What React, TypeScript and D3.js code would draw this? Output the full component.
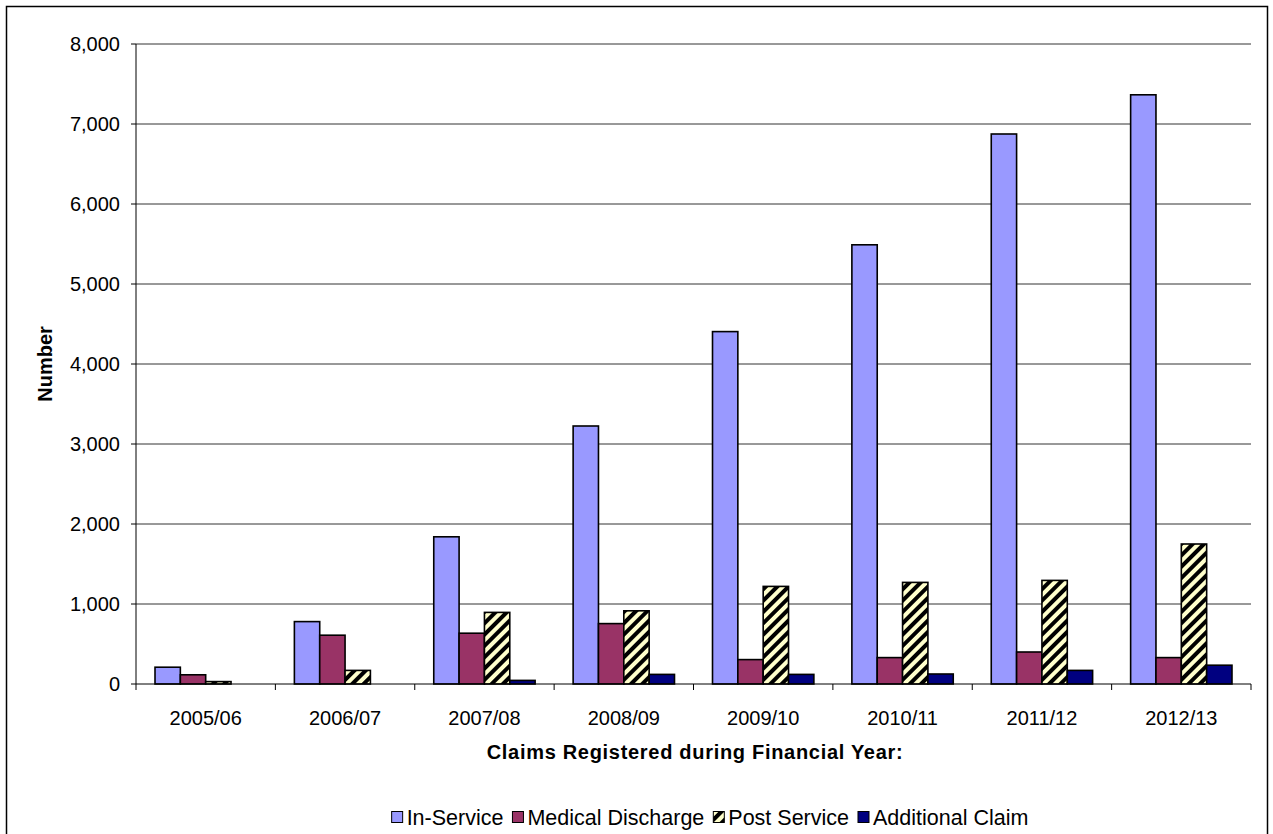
import * as React from "react";
import * as d3 from "d3";

const years = ["2005/06", "2006/07", "2007/08", "2008/09", "2009/10", "2010/11", "2011/12", "2012/13"];
const seriesNames = ["In-Service", "Medical Discharge", "Post Service", "Additional Claim"];
const inService = [210, 780, 1840, 3225, 4405, 5490, 6875, 7365];
const medicalDischarge = [115, 610, 635, 755, 305, 330, 400, 330];
const postService = [30, 170, 895, 915, 1220, 1270, 1295, 1750];
const additionalClaim = [0, 0, 45, 120, 120, 125, 170, 235];
const yTicks = [0, 1000, 2000, 3000, 4000, 5000, 6000, 7000, 8000];

const seriesValues = [inService, medicalDischarge, postService, additionalClaim];
const fills = ["#9999FF", "#993366", "url(#stripes)", "#000080"];

const W = 1273;
const H = 834;
const left = 136;
const right = 1251;
const top = 44;
const bottom = 684;
const font = "'Liberation Sans', Arial, sans-serif";

function Legend() {
  const refs = React.useRef<(SVGTextElement | null)[]>([]);
  const [widths, setWidths] = React.useState<number[]>(seriesNames.map(() => 0));

  React.useLayoutEffect(() => {
    setWidths(refs.current.map((t) => (t ? t.getComputedTextLength() : 0)));
  }, []);

  const box = 11;
  const gapText = 4;
  const gapItem = 9;
  let offsets: number[] = [];
  let cur = 0;
  widths.forEach((w) => {
    offsets.push(cur);
    cur += box + gapText + w + gapItem;
  });
  const total = cur - gapItem;
  const cx = 710;
  const cy = 817;

  return (
    <g transform={`translate(${cx - total / 2},${cy})`}>
      {seriesNames.map((s, i) => (
        <g key={s} transform={`translate(${offsets[i]},0)`}>
          <rect x={0} y={-box / 2} width={box} height={box} fill={fills[i]} stroke="#000" strokeWidth={1} />
          <text
            ref={(el) => { refs.current[i] = el; }}
            x={box + gapText}
            y={0}
            dy="0.35em"
            fontSize={21.5}
            fontFamily={font}
          >
            {s}
          </text>
        </g>
      ))}
    </g>
  );
}

export default function App() {
  const x0 = d3.scaleBand<string>().domain(years).range([left, right]).padding(0);
  const x1 = d3.scaleBand<string>().domain(seriesNames).range([0, x0.bandwidth()]).paddingInner(0).paddingOuter(0.75);
  const y = d3.scaleLinear().domain([0, 8000]).range([bottom, top]);
  const fmt = d3.format(",");

  return (
    <svg width={W} height={H} style={{ position: "absolute", left: 0, top: 0, background: "#fff" }}>
      <defs>
        <pattern id="stripes" width={8} height={8} patternUnits="userSpaceOnUse" patternTransform="rotate(45)">
          <rect width={8} height={8} fill="#FFFFCC" />
          <rect width={4} height={8} fill="#000" />
        </pattern>
      </defs>
      <rect x={6.5} y={6.5} width={1261} height={900} fill="#fff" stroke="#000" strokeWidth={1.5} />

      {/* gridlines */}
      {yTicks.filter((t) => t > 0).map((t) => (
        <line key={t} x1={left} x2={right} y1={y(t)} y2={y(t)} stroke="#333" strokeWidth={1} />
      ))}

      {/* bars */}
      {years.map((yr, ci) => (
        <g key={yr} transform={`translate(${x0(yr)},0)`}>
          {seriesNames.map((s, si) => {
            const v = seriesValues[si][ci];
            if (!v) return null;
            return (
              <rect
                key={s}
                x={x1(s)}
                y={y(v)}
                width={x1.bandwidth()}
                height={y(0) - y(v)}
                fill={fills[si]}
                stroke="#000"
                strokeWidth={1.6}
              />
            );
          })}
        </g>
      ))}

      {/* y axis */}
      <line x1={left} x2={left} y1={top} y2={bottom} stroke="#000" strokeWidth={1} />
      {yTicks.map((t) => (
        <g key={t} transform={`translate(0,${y(t)})`}>
          <line x1={left - 5} x2={left} stroke="#000" strokeWidth={1} />
          <text x={left - 16} dy="0.35em" textAnchor="end" fontSize={20} fontFamily={font}>
            {fmt(t)}
          </text>
        </g>
      ))}
      <text
        transform={`translate(45,${(top + bottom) / 2}) rotate(-90)`}
        textAnchor="middle"
        dy="0.35em"
        fontSize={20}
        fontWeight="bold"
        fontFamily={font}
      >
        Number
      </text>

      {/* x axis */}
      <line x1={left} x2={right} y1={bottom} y2={bottom} stroke="#000" strokeWidth={1} />
      {[...years.map((yr) => x0(yr) as number), right].map((bx, i) => (
        <line key={i} x1={bx} x2={bx} y1={bottom} y2={bottom + 6} stroke="#000" strokeWidth={1} />
      ))}
      {years.map((yr) => (
        <text
          key={yr}
          x={(x0(yr) as number) + x0.bandwidth() / 2}
          y={718}
          dy="0.35em"
          textAnchor="middle"
          fontSize={20}
          fontFamily={font}
        >
          {yr}
        </text>
      ))}
      <text
        x={695}
        y={752}
        dy="0.35em"
        textAnchor="middle"
        fontSize={20}
        fontWeight="bold"
        letterSpacing={0.7}
        fontFamily={font}
      >
        Claims Registered during Financial Year:
      </text>

      <Legend />
    </svg>
  );
}
